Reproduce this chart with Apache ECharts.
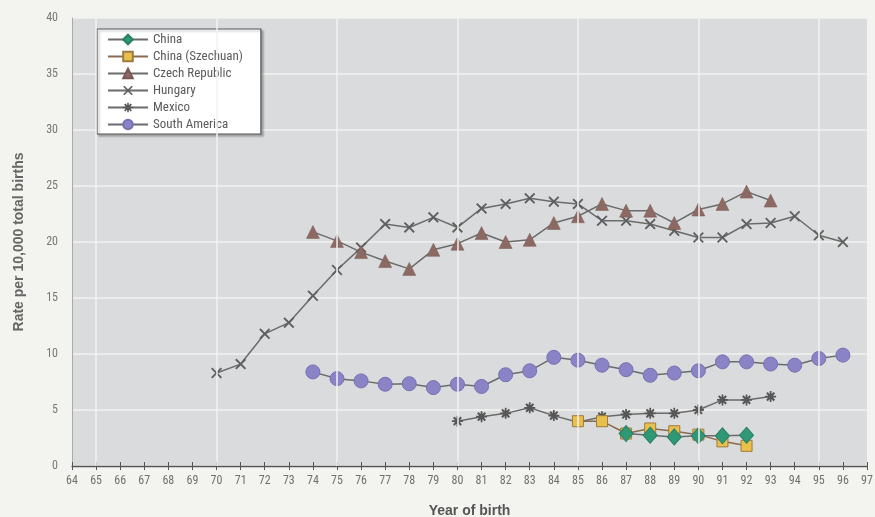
<!DOCTYPE html>
<html>
<head>
<meta charset="utf-8">
<script src="https://cdn.jsdelivr.net/npm/echarts@6/dist/echarts.min.js"></script>
<style>
html,body{margin:0;padding:0;background:#f3f3f0;}
#c{width:875px;height:517px;}
</style>
</head>
<body>
<div id="c"></div>
<script>
// ---- data ----
var hungaryYears = [70,71,72,73,74,75,76,77,78,79,80,81,82,83,84,85,86,87,88,89,90,91,92,93,94,95,96];
var hungaryVals  = [8.3,9.1,11.8,12.8,15.2,17.5,19.5,21.6,21.3,22.2,21.3,23.0,23.4,23.9,23.6,23.4,21.9,21.9,21.6,21.0,20.4,20.4,21.6,21.7,22.3,20.6,20.0];

var czechYears = [74,75,76,77,78,79,80,81,82,83,84,85,86,87,88,89,90,91,92,93];
var czechVals  = [20.9,20.1,19.1,18.3,17.6,19.3,19.85,20.8,20.0,20.2,21.7,22.3,23.4,22.8,22.8,21.7,22.9,23.4,24.5,23.7];

var saYears = [74,75,76,77,78,79,80,81,82,83,84,85,86,87,88,89,90,91,92,93,94,95,96];
var saVals  = [8.4,7.8,7.6,7.3,7.35,7.0,7.3,7.1,8.15,8.5,9.7,9.45,9.0,8.6,8.1,8.3,8.5,9.3,9.3,9.1,9.0,9.6,9.9];

var mexicoYears = [80,81,82,83,84,85,86,87,88,89,90,91,92,93];
var mexicoVals  = [4.0,4.4,4.7,5.2,4.5,3.9,4.4,4.6,4.7,4.7,5.0,5.9,5.9,6.2];

var szechuanYears = [85,86,87,88,89,90,91,92];
var szechuanVals  = [4.0,4.0,2.9,3.35,3.1,2.8,2.2,1.8];

var chinaYears = [87,88,89,90,91,92];
var chinaVals  = [2.9,2.75,2.6,2.7,2.7,2.75];

var gridYears = [65,70,75,80,85,90,95];

function pairs(xs, ys){ return xs.map(function(x,i){ return [x, ys[i]]; }); }

var FONT = '"Liberation Sans Narrow","Arial Narrow","Roboto Condensed",sans-serif';
var LINE = '#6b6b6b';
var xPath = 'path://M0,1.2 L1.2,0 L5,3.8 L8.8,0 L10,1.2 L6.2,5 L10,8.8 L8.8,10 L5,6.2 L1.2,10 L0,8.8 L3.8,5 Z';
var starPath = 'path://M4.2,0 L5.8,0 L5.8,2.6 L7.8,0.8 L9,2 L7.2,4.2 L10,4.2 L10,5.8 L7.2,5.8 L9,8 L7.8,9.2 L5.8,7.4 L5.8,10 L4.2,10 L4.2,7.4 L2.2,9.2 L1,8 L2.8,5.8 L0,5.8 L0,4.2 L2.8,4.2 L1,2 L2.2,0.8 L4.2,2.6 Z';

var chart = echarts.init(document.getElementById('c'), null, {renderer:'canvas'});
chart.setOption({
  backgroundColor: '#f3f3f0',
  animation: false,
  grid: {left:72, right:8, top:18, bottom:51, show:true, backgroundColor:'#d9dbdc', borderWidth:0,
         containLabel:false, outerBoundsMode:'none'},
  legend: {
    orient:'vertical', left:97, top:29,
    data:['China','China (Szechuan)','Czech Republic','Hungary','Mexico','South America'],
    backgroundColor:'#ffffff', borderColor:'#555', borderWidth:1.2,
    padding:[4,18,3,10], itemGap:4, itemWidth:40, itemHeight:12,
    textStyle:{fontFamily:FONT, fontSize:13, color:'#5a5a5a'},
    shadowColor:'rgba(0,0,0,0.25)', shadowOffsetX:2, shadowOffsetY:2, shadowBlur:2
  },
  xAxis: [{
    type:'value', min:64, max:97, interval:1,
    name:'Year of birth', nameLocation:'middle', nameGap:38,
    nameTextStyle:{fontFamily:'"Liberation Sans","Arial",sans-serif', fontWeight:'bold', fontSize:14, color:'#555'},
    axisLine:{lineStyle:{color:'#555', width:1.3}},
    axisTick:{length:4, lineStyle:{color:'#555'}},
    axisLabel:{fontFamily:FONT, fontSize:12, color:'#707070', margin:9},
    splitLine:{show:false}
  },{
    type:'value', min:64, max:97, interval:1, position:'bottom',
    axisLine:{show:false},
    axisTick:{inside:true, length:4, lineStyle:{color:'#555'}},
    axisLabel:{show:false}, splitLine:{show:false}
  }],
  yAxis: {
    type:'value', min:0, max:40, interval:5,
    name:'Rate per 10,000 total births', nameLocation:'middle', nameGap:46,
    nameTextStyle:{fontFamily:'"Liberation Sans","Arial",sans-serif', fontWeight:'bold', fontSize:14, color:'#666'},
    axisLine:{show:true, lineStyle:{color:'#aaa', width:1}},
    axisTick:{show:false},
    axisLabel:{fontFamily:FONT, fontSize:12, color:'#777', margin:14},
    splitLine:{lineStyle:{color:'#f2f2f2', width:1.5}}
  },
  series: [
    {name:'grid', type:'line', data:[], silent:true, xAxisIndex:0,
     markLine:{silent:true, symbol:'none', label:{show:false},
       lineStyle:{color:'#f2f2f2', width:1.5, type:'solid'},
       data: gridYears.map(function(y){ return {xAxis:y}; })}},
    {name:'Hungary', type:'line', data:pairs(hungaryYears,hungaryVals),
     symbol:xPath, symbolSize:11, lineStyle:{color:LINE, width:1.5},
     itemStyle:{color:'#5f5f5f'}},
    {name:'Czech Republic', type:'line', data:pairs(czechYears,czechVals),
     symbol:'triangle', symbolSize:13, lineStyle:{color:LINE, width:1.5},
     itemStyle:{color:'#8c6a63', borderColor:'#7a5a53', borderWidth:0.5}},
    {name:'South America', type:'line', data:pairs(saYears,saVals),
     symbol:'circle', symbolSize:14, lineStyle:{color:LINE, width:1.5},
     itemStyle:{color:'#8a84c6', borderColor:'#7670b4', borderWidth:1}},
    {name:'Mexico', type:'line', data:pairs(mexicoYears,mexicoVals),
     symbol:starPath, symbolSize:11, lineStyle:{color:LINE, width:1.5},
     itemStyle:{color:'#575757'}},
    {name:'China (Szechuan)', type:'line', data:pairs(szechuanYears,szechuanVals),
     symbol:'rect', symbolSize:11, lineStyle:{color:'#8a6a50', width:1.5},
     itemStyle:{color:'#e9bf4c', borderColor:'#a07a3e', borderWidth:1}},
    {name:'China', type:'line', data:pairs(chinaYears,chinaVals),
     symbol:'diamond', symbolSize:[14,16], lineStyle:{color:LINE, width:1.5},
     itemStyle:{color:'#2f9877', borderColor:'#287f64', borderWidth:1}}
  ]
});
</script>
</body>
</html>
